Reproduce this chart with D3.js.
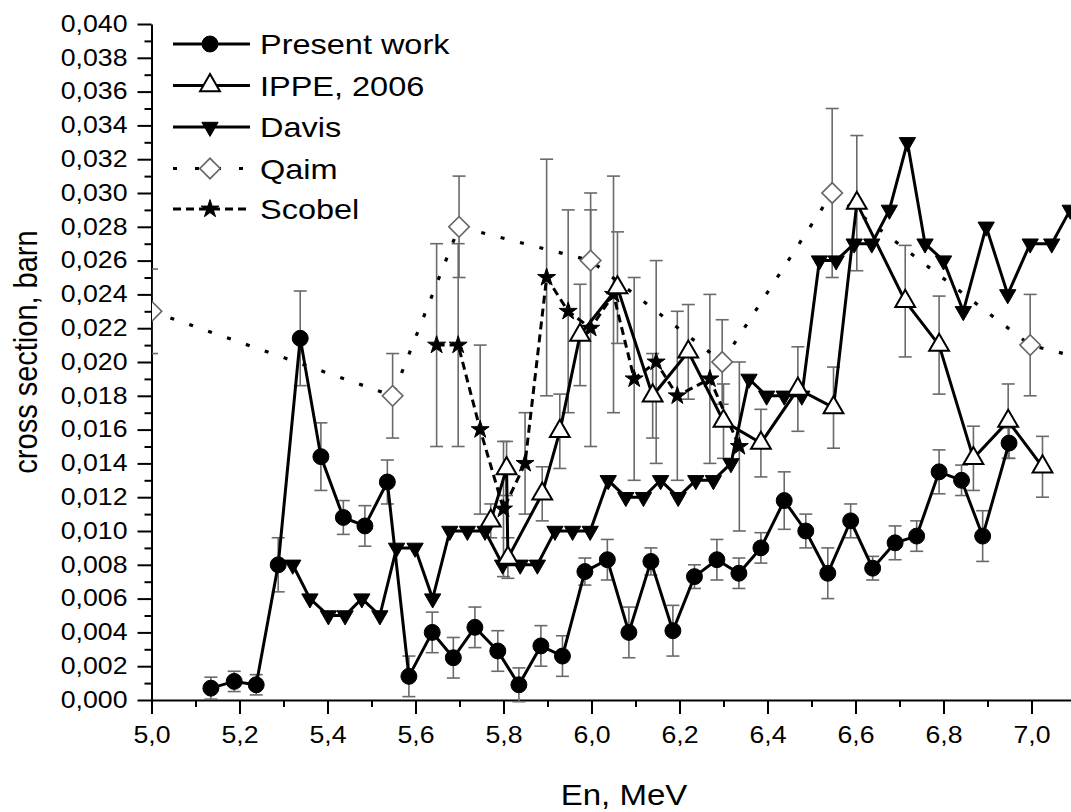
<!DOCTYPE html>
<html>
<head>
<meta charset="utf-8">
<script src="https://d3js.org/d3.v7.min.js"></script>
<style>
  body { margin: 0; background: #fff; }
  text { font-family: "Liberation Sans", Arial, sans-serif; fill: #000; }
</style>
</head>
<body>
<svg id="chart" width="1071" height="812"></svg>
<script>
// ---- data ----
const presentE   = [5.135, 5.188, 5.238, 5.288, 5.338, 5.385, 5.436, 5.485, 5.536, 5.585, 5.638, 5.686, 5.735, 5.787, 5.835, 5.885, 5.934, 5.985, 6.036, 6.085, 6.135, 6.185, 6.234, 6.285, 6.335, 6.385, 6.438, 6.487, 6.537, 6.589, 6.639, 6.690, 6.739, 6.790, 6.841, 6.889, 6.949];
const presentS   = [0.0007, 0.0011, 0.0009, 0.0080, 0.0214, 0.0144, 0.0108, 0.0103, 0.0129, 0.0014, 0.0040, 0.0025, 0.0043, 0.0029, 0.0009, 0.0032, 0.0026, 0.0076, 0.0083, 0.0040, 0.0082, 0.0041, 0.0073, 0.0083, 0.0075, 0.0090, 0.0118, 0.0100, 0.0075, 0.0106, 0.0078, 0.0093, 0.0097, 0.0135, 0.0130, 0.0097, 0.0152];
const presentErr = [0.00065, 0.0006, 0.0006, 0.0016, 0.0028, 0.0020, 0.0010, 0.0012, 0.0013, 0.0012, 0.0012, 0.0012, 0.0012, 0.0012, 0.0010, 0.0012, 0.0012, 0.0008, 0.0012, 0.0015, 0.0008, 0.0015, 0.0007, 0.0012, 0.0009, 0.0009, 0.0017, 0.0010, 0.0015, 0.0010, 0.0007, 0.0010, 0.0009, 0.0013, 0.0009, 0.0015, 0.0009];

const ippeE   = [5.771, 5.807, 5.810, 5.888, 5.928, 5.974, 6.059, 6.139, 6.220, 6.300, 6.385, 6.469, 6.550, 6.603, 6.713, 6.790, 6.868, 6.947, 7.025];
const ippeS   = [0.0106, 0.0137, 0.0084, 0.0122, 0.0159, 0.0216, 0.0244, 0.0180, 0.0206, 0.0165, 0.0152, 0.0184, 0.0173, 0.0294, 0.0236, 0.0210, 0.0143, 0.0165, 0.0138];
const ippeErr = [0.0010, 0.0016, 0.0012, 0.0016, 0.0022, 0.0030, 0.0033, 0.0025, 0.0028, 0.0022, 0.0020, 0.0025, 0.0024, 0.0040, 0.0033, 0.0029, 0.0019, 0.0022, 0.0018];

const davisE = [5.321, 5.360, 5.402, 5.440, 5.478, 5.519, 5.557, 5.599, 5.639, 5.678, 5.718, 5.758, 5.798, 5.838, 5.877, 5.917, 5.957, 5.997, 6.038, 6.078, 6.118, 6.157, 6.197, 6.237, 6.277, 6.317, 6.358, 6.398, 6.438, 6.478, 6.518, 6.556, 6.597, 6.637, 6.677, 6.718, 6.758, 6.800, 6.845, 6.897, 6.946, 6.997, 7.046, 7.088];
const davisS = [0.008, 0.006, 0.005, 0.005, 0.006, 0.005, 0.009, 0.009, 0.006, 0.010, 0.010, 0.010, 0.008, 0.008, 0.008, 0.010, 0.010, 0.010, 0.013, 0.012, 0.012, 0.013, 0.012, 0.013, 0.013, 0.014, 0.019, 0.018, 0.018, 0.018, 0.026, 0.026, 0.027, 0.027, 0.029, 0.033, 0.027, 0.026, 0.023, 0.028, 0.024, 0.027, 0.027, 0.029];

const qaimE   = [5.000, 5.548, 5.699, 5.998, 6.297, 6.547, 6.997, 7.300];
const qaimS   = [0.023, 0.018, 0.028, 0.026, 0.020, 0.030, 0.021, 0.019];
const qaimErr = [0.0025, 0.0025, 0.003, 0.004, 0.0025, 0.005, 0.003, 0.003];

const scobelE   = [5.648, 5.697, 5.747, 5.800, 5.849, 5.898, 5.947, 5.998, 6.050, 6.097, 6.147, 6.195, 6.269, 6.336];
const scobelS   = [0.021, 0.021, 0.016, 0.0113, 0.014, 0.025, 0.023, 0.022, 0.024, 0.019, 0.020, 0.018, 0.019, 0.015];
const scobelErr = [0.006, 0.006, 0.005, 0.004, 0.003, 0.007, 0.006, 0.007, 0.007, 0.006, 0.006, 0.005, 0.005, 0.005];

const xMajor = [5.0, 5.2, 5.4, 5.6, 5.8, 6.0, 6.2, 6.4, 6.6, 6.8, 7.0];
const xMinor = [5.1, 5.3, 5.5, 5.7, 5.9, 6.1, 6.3, 6.5, 6.7, 6.9];
const yMajor = [0, 0.002, 0.004, 0.006, 0.008, 0.010, 0.012, 0.014, 0.016, 0.018, 0.020,
                0.022, 0.024, 0.026, 0.028, 0.030, 0.032, 0.034, 0.036, 0.038, 0.040];
const yMinor = [0.001, 0.003, 0.005, 0.007, 0.009, 0.011, 0.013, 0.015, 0.017, 0.019,
                0.021, 0.023, 0.025, 0.027, 0.029, 0.031, 0.033, 0.035, 0.037, 0.039];

const legendNames = ["Present work", "IPPE, 2006", "Davis", "Qaim", "Scobel"];

// ---- setup ----
const svg = d3.select("#chart");
const stretch = 1.16;   // the figure's lettering is a bit wide
const errGrey = "#6a6a6a";

const x = d3.scaleLinear().domain([5.0, 7.09]).range([151.5, 1071.1]);
const y = d3.scaleLinear().domain([0, 0.040]).range([700, 24]);

const zip = (a, b, c) => a.map((v, i) => ({ e: v, s: b[i], err: c ? c[i] : 0 }));
const present = zip(presentE, presentS, presentErr);
const ippe = zip(ippeE, ippeS, ippeErr);
const davis = zip(davisE, davisS);
const qaim = zip(qaimE, qaimS, qaimErr);
const scobel = zip(scobelE, scobelS, scobelErr);

// ---- axes ----
const comma = f => v => d3.format(f)(v).replace(".", ",");

const gx = svg.append("g").attr("transform", "translate(0,700)")
    .call(d3.axisBottom(x).tickValues(xMajor).tickSize(14).tickSizeOuter(0)
        .tickPadding(13).tickFormat(comma(".1f")));
svg.append("g").attr("transform", "translate(0,700)")
    .call(d3.axisBottom(x).tickValues(xMinor).tickSize(7).tickSizeOuter(0).tickFormat(""))
    .select(".domain").remove();

const gy = svg.append("g").attr("transform", "translate(151.5,0)")
    .call(d3.axisLeft(y).tickValues(yMajor).tickSize(14).tickSizeOuter(0)
        .tickPadding(10).tickFormat(comma(".3f")));
svg.append("g").attr("transform", "translate(151.5,0)")
    .call(d3.axisLeft(y).tickValues(yMinor).tickSize(7).tickSizeOuter(0).tickFormat(""))
    .select(".domain").remove();

svg.selectAll(".domain").attr("stroke", "#000").attr("stroke-width", 2);
svg.selectAll(".tick line").attr("stroke", "#000").attr("stroke-width", 2);
svg.selectAll(".tick text").style("font-size", "23px").attr("fill", "#000");
gx.selectAll(".tick text").attr("transform", `scale(${stretch},1)`);
gy.selectAll(".tick text").attr("x", -24 / stretch).attr("transform", `scale(${stretch},1)`);

// axis titles
svg.append("text")
    .attr("transform", `translate(624,805) scale(1.1,1)`)
    .attr("text-anchor", "middle")
    .style("font-size", "30px")
    .text("En, MeV");
svg.append("text")
    .attr("transform", `translate(37,352) scale(${stretch},1) rotate(-90)`)
    .attr("text-anchor", "middle")
    .style("font-size", "29px")
    .text("cross section, barn");

// ---- plot ----
svg.append("clipPath").attr("id", "clip")
  .append("rect").attr("x", 152).attr("y", 0).attr("width", 940).attr("height", 720);
const plot = svg.append("g").attr("clip-path", "url(#clip)");

const line = d3.line().x(d => x(d.e)).y(d => y(d.s));

const symCircle = d3.symbol().type(d3.symbolCircle).size(200)();
const symTri = d3.symbol().type(d3.symbolTriangle).size(170)();
const symDown = d3.symbol().type(d3.symbolTriangle).size(115)();
const symStar = d3.symbol().type(d3.symbolStar).size(100)();
const symDiam = d3.symbol().type(d3.symbolSquare).size(210)();

// error bars
function errorBars(data) {
  const g = plot.append("g").attr("stroke", errGrey).attr("stroke-width", 1.6).attr("fill", "none");
  data.forEach(d => {
    const xx = x(d.e), y0 = y(d.s - d.err), y1 = y(d.s + d.err);
    g.append("line").attr("x1", xx).attr("x2", xx).attr("y1", y0).attr("y2", y1);
    g.append("line").attr("x1", xx - 6.5).attr("x2", xx + 6.5).attr("y1", y0).attr("y2", y0);
    g.append("line").attr("x1", xx - 6.5).attr("x2", xx + 6.5).attr("y1", y1).attr("y2", y1);
  });
}
[qaim, scobel, ippe, present].forEach(errorBars);

// lines
plot.append("path").datum(qaim).attr("d", line)
    .attr("fill", "none").attr("stroke", "#000").attr("stroke-width", 3.2)
    .attr("stroke-dasharray", "4,16");
plot.append("path").datum(scobel).attr("d", line)
    .attr("fill", "none").attr("stroke", "#000").attr("stroke-width", 3)
    .attr("stroke-dasharray", "8,5");
[davis, ippe, present].forEach(data => {
  plot.append("path").datum(data).attr("d", line)
      .attr("fill", "none").attr("stroke", "#000").attr("stroke-width", 3)
      .attr("stroke-linejoin", "miter");
});

// markers
function markers(data, path, style, rot) {
  plot.append("g").selectAll("path").data(data).join("path")
      .attr("d", path)
      .attr("transform", d => `translate(${x(d.e)},${y(d.s)})` + (rot ? ` rotate(${rot})` : ""))
      .attr("fill", style.fill).attr("stroke", style.stroke).attr("stroke-width", style.sw);
}
markers(qaim, symDiam, { fill: "#fff", stroke: "#666", sw: 1.6 }, 45);
markers(scobel, symStar, { fill: "#000", stroke: "#000", sw: 1 });
markers(davis, symDown, { fill: "#000", stroke: "#000", sw: 1 }, 180);
markers(ippe, symTri, { fill: "#fff", stroke: "#000", sw: 2 });
markers(present, symCircle, { fill: "#000", stroke: "#000", sw: 1 });

// ---- legend ----
const legendY = [44, 85.5, 127, 168.5, 209];
const leg = svg.append("g");
const legendStyles = [
  { dash: null, sym: symCircle, fill: "#000", stroke: "#000", sw: 1, rot: 0 },
  { dash: null, sym: symTri, fill: "#fff", stroke: "#000", sw: 2, rot: 0 },
  { dash: null, sym: symDown, fill: "#000", stroke: "#000", sw: 1, rot: 180 },
  { dash: "4,18", sym: symDiam, fill: "#fff", stroke: "#666", sw: 1.6, rot: 45 },
  { dash: "8,5", sym: symStar, fill: "#000", stroke: "#000", sw: 1, rot: 0 }
];
legendNames.forEach((name, i) => {
  const st = legendStyles[i];
  const yy = legendY[i];
  const ln = leg.append("line").attr("x1", 173).attr("x2", 250).attr("y1", yy).attr("y2", yy)
      .attr("stroke", "#000").attr("stroke-width", 3);
  if (st.dash) ln.attr("stroke-dasharray", st.dash);
  leg.append("path").attr("d", st.sym)
      .attr("transform", `translate(210,${yy})` + (st.rot ? ` rotate(${st.rot})` : ""))
      .attr("fill", st.fill).attr("stroke", st.stroke).attr("stroke-width", st.sw);
  leg.append("text")
      .attr("transform", `translate(260,${yy + 10}) scale(${stretch},1)`)
      .style("font-size", "28px")
      .text(name);
});
</script>
</body>
</html>
